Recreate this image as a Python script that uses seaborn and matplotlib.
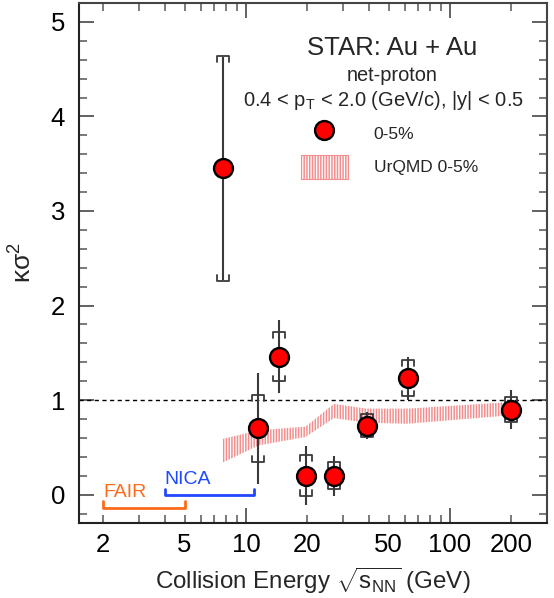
import numpy as np
import pandas as pd
import matplotlib
matplotlib.use("Agg")
import matplotlib.pyplot as plt
import seaborn as sns
from matplotlib.lines import Line2D
from matplotlib.patches import Patch
from matplotlib.ticker import FixedLocator, FuncFormatter

# ---------------- data ----------------
energy = [7.7, 11.5, 14.5, 19.6, 27.0, 39.0, 62.4, 200.0]
kappa = [3.45, 0.70, 1.46, 0.20, 0.20, 0.73, 1.23, 0.90]
stat_err = [1.18, 0.59, 0.39, 0.31, 0.21, 0.14, 0.23, 0.205]
sys_err = [1.19, 0.35, 0.26, 0.215, 0.14, 0.12, 0.19, 0.13]

urqmd_energy = [7.7, 11.5, 19.6, 27.0, 39.0, 62.4, 200.0]
urqmd_low = [0.34, 0.52, 0.61, 0.81, 0.76, 0.75, 0.84]
urqmd_high = [0.59, 0.68, 0.72, 0.96, 0.91, 0.91, 0.98]

fair_range = [2.0, 5.0]
nica_range = [4.0, 11.0]

xtick_labels = [2, 5, 10, 20, 50, 100, 200]

# ---------------- style ----------------
sns.set_theme(style="ticks")
plt.rcParams['font.family'] = ['Liberation Sans', 'DejaVu Sans']
plt.rcParams['mathtext.fontset'] = 'custom'
plt.rcParams['mathtext.rm'] = 'Liberation Sans'
plt.rcParams['mathtext.it'] = 'Liberation Sans:italic'
plt.rcParams['mathtext.bf'] = 'Liberation Sans:bold'
plt.rcParams['hatch.linewidth'] = 1.1

fig = plt.figure(figsize=(5.54, 5.98), dpi=100)
ax = fig.add_axes([79 / 554, 1 - 523 / 598, 467.7 / 554, 520 / 598])

ax.set_xscale('log')
ax.set_xlim(1.52, 298)
ax.set_ylim(-0.3, 5.2)

band_color = '#f28e8e'
err_color = '#3a3a3a'

# UrQMD band
ax.fill_between(urqmd_energy, urqmd_low, urqmd_high, facecolor='none',
                edgecolor=band_color, hatch='||||||', linewidth=0, zorder=1)

# reference line
ax.axhline(1.0, color='black', lw=1.0, ls=(0, (3, 2.5)), zorder=2)

# stat errors
ax.errorbar(energy, kappa, yerr=stat_err, fmt='none', ecolor=err_color,
            elinewidth=1.5, capsize=0, zorder=3)

# systematic brackets
e = np.array(energy)
k = np.array(kappa)
s = np.array(sys_err)
fw = 1.07
leg = 0.06
for xi, yi, si in zip(e, k, s):
    top = yi + si
    bot = yi - si
    ax.plot([xi / fw, xi / fw, xi * fw, xi * fw], [top - leg, top, top, top - leg],
            color=err_color, lw=1.3, zorder=3)
    ax.plot([xi / fw, xi / fw, xi * fw, xi * fw], [bot + leg, bot, bot, bot + leg],
            color=err_color, lw=1.3, zorder=3)

# data points
df = pd.DataFrame({'energy': energy, 'kappa': kappa})
sns.scatterplot(data=df, x='energy', y='kappa', ax=ax, s=185, color='#ff0000',
                edgecolor='black', linewidth=1.7, zorder=5, legend=False)

# FAIR / NICA
fair_c = '#ff6a1a'
nica_c = '#1f48ff'
ax.plot([fair_range[0], fair_range[0], fair_range[1], fair_range[1]],
        [-0.07, -0.14, -0.14, -0.07], color=fair_c, lw=2, zorder=2)
ax.text(fair_range[0], -0.02, 'FAIR', color=fair_c, fontsize=14, ha='left', va='baseline')
ax.plot([nica_range[0], nica_range[0], nica_range[1], nica_range[1]],
        [0.06, -0.007, -0.007, 0.06], color=nica_c, lw=2, zorder=2)
ax.text(nica_range[0], 0.113, 'NICA', color=nica_c, fontsize=14, ha='left', va='baseline')

# texts
ax.text(0.6686, 0.9135, 'STAR: Au + Au', transform=ax.transAxes, fontsize=18.5,
        ha='center', va='center')
ax.text(0.6686, 0.8615, 'net-proton', transform=ax.transAxes, fontsize=14.4,
        ha='center', va='center')
ax.text(0.652, 0.8125, r'0.4 < p$_{\mathrm{T}}$ < 2.0 (GeV/c), |y| < 0.5',
        transform=ax.transAxes, fontsize=14.5, ha='center', va='center')

# legend
handles = [
    Line2D([], [], ls='none', marker='o', markersize=13.6, markerfacecolor='#ff0000',
           markeredgecolor='black', markeredgewidth=1.7),
    Patch(facecolor='none', edgecolor=band_color, hatch='||||||', linewidth=0.8),
]
ax.legend(handles, ['0-5%', 'UrQMD 0-5%'], loc='upper left',
          bbox_to_anchor=(301 / 554, 1 - 121.5 / 598), bbox_transform=fig.transFigure,
          frameon=False, fontsize=12.5, borderpad=0, borderaxespad=0,
          handlelength=2.68, handleheight=1.78, handletextpad=1.5, labelspacing=0.5)

# axes labels
ax.set_ylabel('κσ$^{2}$', fontsize=19, labelpad=10)
ax.set_xlabel(r'Collision Energy $\sqrt{\mathrm{s}_{\mathrm{NN}}}$ (GeV)', fontsize=17.4, labelpad=6)

# ticks
major_x = [10, 100]
minor_x = [2, 3, 4, 5, 6, 7, 8, 9, 20, 30, 40, 50, 60, 70, 80, 90, 200]
ax.xaxis.set_major_locator(FixedLocator(major_x))
ax.xaxis.set_minor_locator(FixedLocator(minor_x))
fmt = FuncFormatter(lambda v, p: f'{int(round(v))}' if int(round(v)) in xtick_labels else '')
ax.xaxis.set_major_formatter(fmt)
ax.xaxis.set_minor_formatter(fmt)
ax.yaxis.set_major_locator(FixedLocator([0, 1, 2, 3, 4, 5]))
ax.yaxis.set_minor_locator(FixedLocator(np.round(np.arange(-0.2, 5.2, 0.2), 2)))

tick_c = '#555555'
ax.tick_params(which='both', direction='in', top=True, right=True, colors=tick_c,
               labelcolor='black', labelsize=18.5)
ax.tick_params(which='major', length=11, width=1.3)
ax.tick_params(which='minor', length=5.5, width=1.1)
ax.tick_params(axis='x', which='both', pad=7)
ax.tick_params(axis='y', which='both', pad=10)
for sp in ax.spines.values():
    sp.set_color('#444444')
    sp.set_linewidth(1.5)
ax.spines['left'].set_color('#222222')
ax.spines['bottom'].set_color('#222222')

fig.savefig('out.png', dpi=100)
